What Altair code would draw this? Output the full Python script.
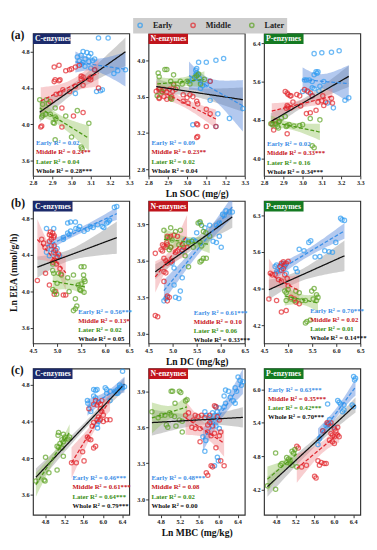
import numpy as np
import pandas as pd
import altair as alt

SERIF = "Liberation Serif"
GROUPS = ["Early", "Middle", "Later"]
ALL = ["Whole", "Early", "Middle", "Later"]
POINT_COLORS = ["#2e9cf2", "#e3262c", "#5da323"]
LINE_COLORS = ["#111111", "#3a8fe8", "#e0262e", "#4f9a1a"]
BAND_COLORS = ["#8c8c8c", "#4a7fd8", "#ee8a8f", "#93c45e"]
TEXT_COLORS = ["#3d8ee6", "#c8161d", "#3b8f16", "#111111"]
HEADER_COLORS = {"C-enzymes": "#1c2b6b", "N-enzymes": "#c0141c", "P-enzymes": "#147a22"}

# ---------------- row (a): x = Ln SOC ----------------
a1_early_x = [3.03,3.04,3.05,3.06,3.07,3.08,3.09,3.10,3.11,3.05,3.07,3.09,3.12,3.14,3.19,3.13,3.15,3.16,3.22,3.24,3.02,3.12,3.06,3.10,3.28]
a1_early_y = [4.74,4.70,4.76,4.68,4.72,4.79,4.75,4.78,4.70,4.66,4.64,4.69,4.60,4.95,4.95,4.36,4.37,4.38,4.56,4.59,4.34,4.72,4.80,4.62,4.60]
a1_middle_x = [2.91,2.935,2.91,2.915,2.935,2.94,2.97,2.99,3.00,3.02,3.04,3.05,3.05,3.06,3.09,3.10,3.10,3.14,3.02,3.06,2.955,2.92,2.94,2.89,2.95,3.01,3.06,2.84,2.845,2.95,2.99,3.12]
a1_middle_y = [4.63,4.65,4.47,4.49,4.48,4.49,4.59,4.60,4.61,4.63,4.65,4.50,4.53,4.52,4.50,4.52,4.49,4.40,4.42,4.43,4.38,4.33,4.34,4.25,4.18,4.09,4.13,3.97,3.98,3.97,4.36,4.60]
a1_later_x = [2.835,2.87,2.85,2.85,2.865,2.89,2.915,2.915,2.92,2.905,2.91,2.97,3.03,3.09,2.915,3.00,3.05,3.055,2.845,2.88]
a1_later_y = [4.27,4.27,4.22,4.10,4.11,4.11,4.18,4.08,4.06,4.02,4.01,4.09,4.15,4.01,3.83,3.86,3.75,3.73,4.08,4.23]

a2_early_x = [3.06,3.10,3.15,3.19,3.05,3.055,3.045,3.065,3.05,3.045,3.03,3.07,3.10,3.12,3.12,3.16,3.22,3.29,3.03,3.15,3.08,3.07,3.01]
a2_early_y = [3.98,3.98,4.00,4.02,3.86,3.84,3.84,3.80,3.91,3.89,3.79,3.76,3.73,3.77,3.56,3.41,3.36,3.47,3.29,3.27,3.72,3.69,3.77]
a2_middle_x = [2.84,2.855,2.87,2.88,2.895,2.91,2.925,2.94,2.855,2.88,2.895,2.92,2.915,2.98,3.0,3.015,3.03,2.98,3.005,3.05,3.055,3.10,3.12,3.05,3.055,3.10,3.15,3.05,3.055,3.12,2.855,2.93]
a2_middle_y = [3.66,3.68,3.66,3.68,3.65,3.68,3.66,3.68,3.58,3.60,3.57,3.60,3.58,3.62,3.59,3.62,3.60,3.55,3.53,3.55,3.52,3.46,3.41,3.30,3.29,3.27,3.27,3.15,3.16,3.77,3.59,3.73]
a2_later_x = [2.85,2.885,2.895,2.855,2.93,2.915,2.93,2.965,2.975,3.0,3.015,3.04,3.06,3.05,3.07,3.09,2.845,2.87,2.915,2.92,2.95]
a2_later_y = [3.86,3.90,3.90,3.82,3.84,3.77,3.74,3.77,3.74,3.77,3.74,3.81,3.85,3.83,3.74,3.79,3.61,3.65,3.59,3.57,3.70]

a3_early_x = [3.06,3.10,3.15,3.19,3.22,3.24,3.07,3.075,3.08,3.06,3.01,3.02,3.035,3.05,3.11,3.05,3.06,3.09,3.085,3.13,3.16,3.03,3.05,3.00]
a3_early_y = [6.18,6.20,6.21,6.24,5.21,5.26,5.80,5.77,5.80,5.74,5.63,5.63,5.63,5.60,5.60,5.47,5.45,5.50,5.40,5.15,5.05,5.38,5.30,5.39]
a3_middle_x = [2.91,2.92,2.925,2.935,2.94,2.97,2.985,3.01,3.025,3.04,3.05,2.92,2.925,2.94,2.915,2.95,2.99,3.02,3.04,3.07,3.10,3.105,3.12,3.11,3.15,3.155,3.08,2.84,2.85,2.92,2.86]
a3_middle_y = [5.39,5.36,5.33,5.30,5.30,5.33,5.30,5.43,5.40,5.36,5.30,5.10,5.07,5.05,5.04,5.17,5.09,4.93,4.95,5.00,5.20,5.30,5.17,5.10,5.25,5.15,5.17,4.72,4.59,4.51,4.78]
a3_later_x = [2.835,2.845,2.86,2.87,2.875,2.92,2.93,2.955,2.985,3.0,2.91,2.89,2.88,2.875,3.04,3.09,3.05,3.06,2.915]
a3_later_y = [4.72,4.70,4.72,4.66,4.63,4.68,4.70,4.67,4.68,4.70,4.87,4.84,4.77,4.75,4.83,4.80,4.26,4.22,4.66]

# ---------------- row (b): x = Ln DC ----------------
b1_early_x = [4.78,4.93,5.22,5.28,5.38,5.39,5.44,5.47,5.13,5.13,5.22,5.25,5.28,5.56,5.63,5.69,5.75,5.94,5.97,6.06,6.03,6.09,6.19,6.24,5.84,4.88,4.94,5.00,4.84,4.97,5.05,4.78]
b1_early_y = [4.69,4.69,4.75,4.76,4.76,4.69,4.68,4.71,4.59,4.57,4.64,4.62,4.66,4.66,4.68,4.71,4.70,4.71,4.70,4.76,4.75,4.78,4.92,4.93,4.73,4.46,4.45,4.47,4.39,4.41,4.39,4.43]
b1_middle_x = [4.84,4.86,4.88,4.91,4.88,4.93,4.94,4.68,4.72,4.84,4.88,4.75,4.94,4.97,4.93,5.03,5.00,4.91,4.94,4.76,5.08,4.59,4.84,4.97,4.94,5.13,5.18,5.06,4.99]
b1_middle_y = [4.62,4.65,4.61,4.64,4.57,4.59,4.61,4.57,4.53,4.55,4.50,4.48,4.50,4.45,4.43,4.41,4.38,4.32,4.34,4.20,4.19,4.12,4.07,4.00,3.97,3.96,3.96,4.25,4.30]
b1_later_x = [4.91,4.93,5.03,5.09,4.91,4.94,4.99,5.22,5.34,5.50,5.56,5.55,5.56,5.58,5.44,5.50,5.47,5.49,5.38,5.41,5.38,5.34,4.91,5.25,5.56,5.00]
b1_later_y = [4.23,4.20,4.20,4.18,4.02,4.00,3.97,4.15,4.18,4.27,4.27,4.18,4.13,4.11,4.07,4.08,4.02,4.01,3.92,3.84,3.81,3.79,4.30,4.00,3.99,4.09]

b2_early_x = [6.11,6.18,6.24,6.07,5.97,5.91,5.67,5.57,5.77,5.50,5.43,5.47,5.84,5.91,5.97,6.01,5.26,5.33,5.20,4.99,5.03,5.20,5.03,5.16,4.82,4.86,4.89,5.13,5.06,6.04]
b2_early_y = [4.01,4.00,4.00,3.97,3.91,3.89,3.87,3.91,3.89,3.83,3.77,3.76,3.76,3.75,3.80,3.71,3.77,3.76,3.68,3.58,3.54,3.46,3.40,3.35,3.27,3.29,3.30,3.29,3.30,3.98]
b2_middle_x = [4.64,4.76,4.79,4.79,4.82,4.86,4.89,4.88,4.89,4.93,4.96,5.03,5.10,4.82,4.86,4.89,4.82,4.86,4.96,4.99,5.06,5.10,5.20,5.23,5.30,4.82,4.89,4.93,4.89,4.64,4.69,4.96]
b2_middle_y = [3.66,3.69,3.68,3.73,3.72,3.71,3.73,3.75,3.80,3.79,3.80,3.81,3.80,3.62,3.60,3.58,3.51,3.50,3.59,3.60,3.67,3.68,3.69,3.71,3.71,3.43,3.31,3.30,3.27,3.15,3.14,3.71]
b2_later_x = [4.82,4.96,5.06,5.16,4.89,4.99,4.96,4.93,5.13,5.20,5.33,5.40,5.53,5.57,5.60,5.64,5.69,5.77,5.57,5.60,5.64,5.60,5.70,5.57,5.33,5.26,5.43]
b2_later_y = [3.85,3.87,3.84,3.85,3.79,3.77,3.71,3.69,3.73,3.73,3.75,3.76,3.91,3.92,3.89,3.84,3.83,3.80,3.75,3.72,3.62,3.60,3.62,3.59,3.55,3.64,3.71]

b3_early_x = [6.09,6.12,6.17,5.99,5.43,5.47,5.23,5.33,5.76,5.85,5.92,5.56,5.66,5.16,5.19,4.73,4.76,4.86,4.90,4.93,4.76,4.83,4.96]
b3_early_y = [6.24,6.21,6.20,5.78,5.78,5.81,5.65,5.62,5.62,5.60,5.59,5.50,5.51,5.28,5.22,5.32,5.35,5.35,5.38,5.32,5.22,5.24,5.19]
b3_middle_x = [4.86,4.90,4.93,4.90,4.83,4.86,4.96,5.00,4.63,4.67,4.73,4.80,4.86,4.98,4.60,4.76,4.86,4.96,5.06,5.13,5.16,5.23,5.00,4.93]
b3_middle_y = [5.38,5.41,5.35,5.28,5.32,5.25,5.38,5.42,5.19,5.16,5.17,5.07,5.04,5.09,4.70,4.67,4.45,4.48,4.73,4.70,4.64,4.61,4.95,5.16]
b3_later_x = [4.93,4.96,5.00,5.06,5.13,5.16,5.23,5.29,5.36,5.49,5.54,5.59,5.62,5.52,5.59,5.36,5.39,5.46,4.96]
b3_later_y = [4.85,4.82,4.88,4.70,4.67,4.85,4.82,4.67,4.67,4.85,4.90,4.78,4.73,4.70,4.67,4.24,4.27,4.30,4.67]

# ---------------- row (c): x = Ln MBC ----------------
c1_early_x = [6.41,6.35,6.38,6.41,6.45,6.35,6.31,6.08,6.15,5.81,5.85,5.88,6.05,6.08,5.68,5.69,5.75,5.88,5.89,5.91,5.81,5.85,6.25,6.28,6.15,6.31]
c1_early_y = [4.95,4.80,4.78,4.77,4.78,4.77,4.75,4.71,4.73,4.75,4.74,4.75,4.77,4.75,4.63,4.60,4.51,4.37,4.33,4.40,4.68,4.66,4.73,4.71,4.63,4.71]
c1_middle_x = [5.85,5.91,5.95,5.98,5.88,5.81,5.71,5.95,5.98,6.01,5.91,5.88,5.95,6.08,6.15,5.78,5.81,5.68,5.71,5.75,5.85,5.81,5.58,5.61,5.45,5.35,6.01]
c1_middle_y = [4.63,4.61,4.59,4.63,4.58,4.59,4.54,4.54,4.51,4.47,4.45,4.42,4.42,4.42,4.42,4.35,4.39,4.23,4.21,4.20,4.13,4.11,4.07,3.97,3.95,3.95,4.40]
c1_later_x = [4.61,4.78,4.80,4.88,5.05,4.81,5.05,5.08,5.15,5.07,5.18,5.15,5.21,5.18,5.11,5.28,5.18,5.08,5.31,5.21]
c1_later_y = [3.75,3.76,3.75,3.84,3.87,4.01,4.13,4.12,4.11,4.25,4.26,4.20,4.21,4.18,4.16,4.21,4.02,4.28,4.23,4.23]

c2_early_x = [6.41,6.45,6.51,6.48,6.35,6.38,6.15,6.21,6.12,6.25,6.31,6.35,6.15,6.12,5.95,6.02,5.98,5.88,5.92,5.82,5.85,5.72,5.75,5.95,6.02,5.68,5.74,5.72,5.98,6.00,5.92]
c2_early_y = [4.02,3.99,3.98,3.95,3.93,3.90,3.91,3.90,3.86,3.85,3.82,3.80,3.80,3.77,3.77,3.76,3.73,3.72,3.70,3.68,3.66,3.73,3.70,3.61,3.59,3.52,3.49,3.40,3.35,3.32,3.28]
c2_middle_x = [5.32,5.38,5.52,5.58,5.65,5.72,5.82,5.45,5.52,5.62,5.78,5.82,5.88,5.92,5.95,5.98,6.02,5.78,5.85,5.92,6.02,6.05,6.05,6.12,5.95,5.85,5.88,5.75,5.78,5.62,5.48]
c2_middle_y = [3.70,3.72,3.70,3.69,3.70,3.68,3.70,3.60,3.59,3.59,3.62,3.64,3.61,3.78,3.77,3.69,3.66,3.56,3.53,3.55,3.53,3.56,3.32,3.28,3.43,3.28,3.27,3.22,3.20,3.48,3.66]
c2_later_x = [4.62,4.82,4.89,4.99,5.02,5.05,5.02,5.10,5.19,5.22,5.32,5.35,5.19,5.25,4.92,4.95,5.25,5.09,4.75,5.12]
c2_later_y = [3.73,3.70,3.70,3.72,3.70,3.90,3.90,3.80,3.90,3.89,3.82,3.83,3.66,3.65,3.62,3.60,3.56,3.69,3.68,3.61]

c3_early_x = [6.41,6.45,6.43,6.08,6.11,6.14,6.21,5.87,6.38,6.41,6.18,6.21,5.91,5.87,5.84,5.77,5.70,5.67,5.94,6.01]
c3_early_y = [6.23,6.20,6.17,5.80,5.77,5.74,5.72,5.74,5.72,5.69,5.60,5.63,5.46,5.38,5.35,5.26,5.12,5.01,5.35,5.32]
c3_middle_x = [5.86,5.89,5.94,5.77,6.01,6.04,6.08,5.94,5.97,6.01,5.91,5.97,6.01,6.08,5.23,5.26,5.33,5.43,5.67,5.74,5.80,5.84,5.70,5.60,5.63,6.11]
c3_middle_y = [5.40,5.38,5.40,5.26,5.29,5.26,5.32,5.21,5.18,5.15,5.09,5.06,5.03,5.18,4.98,4.95,4.61,4.64,4.72,4.69,4.67,4.67,4.64,4.44,4.41,5.15]
c3_later_x = [4.62,4.79,4.79,4.89,4.92,5.02,5.06,5.09,5.13,5.16,5.19,5.09,5.13,5.23,5.02]
c3_later_y = [4.27,4.21,4.86,4.64,4.67,4.78,4.75,4.72,4.89,4.86,4.92,4.67,4.64,4.61,4.69]

# ---------------- axis ticks ----------------
SOC_TICKS = [2.8, 2.9, 3.0, 3.1, 3.2, 3.3]
DC_TICKS = [4.5, 5.0, 5.5, 6.0, 6.5]
MBC_TICKS = [4.8, 5.2, 5.6, 6.0, 6.4]
C_TICKS = [3.6, 4.0, 4.4, 4.8]
N_TICKS_A = [2.8, 3.2, 3.6, 4.0]
N_TICKS = [3.0, 3.3, 3.6, 3.9]
P_TICKS_A = [4.0, 4.8, 5.6, 6.4]
P_TICKS_B = [4.2, 4.9, 5.6, 6.3]
P_TICKS_C = [4.2, 4.8, 5.4, 6.0]

# ---------------- R squared labels ----------------
a1_r2 = ["0.02", "0.24", "0.04", "0.28"]; a1_sig = ["", "**", "", "***"]
a2_r2 = ["0.09", "0.23", "0.02", "0.04"]; a2_sig = ["", "**", "", ""]
a3_r2 = ["0.02", "0.33", "0.16", "0.34"]; a3_sig = ["", "***", "", "***"]
b1_r2 = ["0.56", "0.13", "0.02", "0.05"]; b1_sig = ["***", "*", "", ""]
b2_r2 = ["0.61", "0.10", "0.06", "0.33"]; b2_sig = ["***", "", "", "***"]
b3_r2 = ["0.70", "0.02", "0.01", "0.14"]; b3_sig = ["***", "", "", "***"]
c1_r2 = ["0.46", "0.61", "0.64", "0.79"]; c1_sig = ["***", "***", "***", "***"]
c2_r2 = ["0.48", "0.08", "0.02", "0.00"]; c2_sig = ["***", "", "", ""]
c3_r2 = ["0.63", "0.35", "0.42", "0.70"]; c3_sig = ["***", "***", "***", "***"]
STAT_NAMES = ["Early", "Middle", "Later", "Whole"]


def fit_band(x, y, n=40):
    x = np.asarray(x, float)
    y = np.asarray(y, float)
    b, a = np.polyfit(x, y, 1)
    xs = np.linspace(x.min(), x.max(), n)
    yhat = a + b * xs
    resid = y - (a + b * x)
    dof = len(x) - 2
    s = np.sqrt((resid ** 2).sum() / dof)
    sxx = ((x - x.mean()) ** 2).sum()
    t = 1.96 + 2.4 / dof
    se = s * np.sqrt(1.0 / len(x) + (xs - x.mean()) ** 2 / sxx)
    return xs, yhat, yhat - t * se, yhat + t * se


LEGEND = alt.Legend(
    orient="none", legendX=104, legendY=-16, direction="horizontal", title=None,
    fillColor="#cdcdcd", padding=3, columnPadding=16, labelOffset=9,
    symbolSize=20, symbolStrokeWidth=1.5, symbolType="circle",
    labelFont=SERIF, labelFontWeight="bold", labelFontSize=8.5, labelColor="#222222",
)


def make_panel(xl, yl, xdom, ydom, xticks, yticks, header, r2, sig, tpos, height,
               xtitle=None, ytitle=None, tag=None, hw=41):
    rows = []
    for g, xv, yv in zip(GROUPS, xl, yl):
        for a, b in zip(xv, yv):
            rows.append({"x": a, "y": b, "group": g})
    pts = pd.DataFrame(rows)

    frows = []
    allx = sum([list(v) for v in xl], [])
    ally = sum([list(v) for v in yl], [])
    for g, xv, yv in zip(ALL, [allx] + list(xl), [ally] + list(yl)):
        gx, gf, lo, hi = fit_band(xv, yv)
        for i in range(len(gx)):
            frows.append({"x": gx[i], "fit": gf[i], "lo": lo[i], "hi": hi[i], "group": g})
    fits = pd.DataFrame(frows)

    xscale = alt.Scale(domain=xdom, nice=False, zero=False)
    yscale = alt.Scale(domain=ydom, nice=False, zero=False)
    xaxis = alt.Axis(values=xticks, format=".1f", title=xtitle)
    yaxis = alt.Axis(values=yticks, format=".1f", title=ytitle)
    X = alt.X("x:Q", scale=xscale, axis=xaxis)

    bands = alt.Chart(fits).mark_area(opacity=0.42, clip=True).encode(
        x=X,
        y=alt.Y("lo:Q", scale=yscale, axis=yaxis),
        y2=alt.Y2("hi:Q"),
        fill=alt.Fill("group:N", scale=alt.Scale(domain=ALL, range=BAND_COLORS), legend=None),
    )
    points = alt.Chart(pts).mark_point(filled=False, size=20, strokeWidth=1.3).encode(
        x=X,
        y=alt.Y("y:Q", scale=yscale, axis=yaxis),
        color=alt.Color("group:N", scale=alt.Scale(domain=GROUPS, range=POINT_COLORS), legend=LEGEND),
    )
    lines = alt.Chart(fits).mark_line(clip=True, strokeWidth=1.3).encode(
        x=X,
        y=alt.Y("fit:Q", scale=yscale, axis=yaxis),
        stroke=alt.Stroke("group:N", scale=alt.Scale(domain=ALL, range=LINE_COLORS), legend=None),
        strokeDash=alt.StrokeDash("group:N", scale=alt.Scale(domain=ALL, range=[[1, 0], [4, 2], [4, 2], [4, 2]]), legend=None),
    )
    one = pd.DataFrame({"k": [0]})
    layers = [bands, points, lines]
    layers.append(alt.Chart(one).mark_rect(color=HEADER_COLORS[header]).encode(
        x=alt.value(0), x2=alt.value(hw), y=alt.value(0), y2=alt.value(11)))
    layers.append(alt.Chart(one).mark_text(text=header, color="white", font=SERIF, fontWeight="bold",
                                           fontSize=8, align="left", baseline="middle").encode(
        x=alt.value(2), y=alt.value(6)))
    tx, ty = tpos
    for i in range(4):
        label = f"{STAT_NAMES[i]}  R\u00b2 = {r2[i]}{sig[i]}"
        layers.append(alt.Chart(one).mark_text(text=label, color=TEXT_COLORS[i], font=SERIF,
                                               fontWeight="bold", fontSize=7, align="left",
                                               baseline="middle").encode(
            x=alt.value(tx), y=alt.value(ty + i * 9.6)))
    if tag:
        layers.append(alt.Chart(one).mark_text(text=tag, color="#111111", font=SERIF, fontWeight="bold",
                                               fontSize=12, align="left", baseline="middle").encode(
            x=alt.value(-23), y=alt.value(2)))
    return alt.layer(*layers).properties(width=100, height=height)


HA, HB, HC = 148, 148, 152
panels = [
    make_panel([a1_early_x, a1_middle_x, a1_later_x], [a1_early_y, a1_middle_y, a1_later_y],
               [2.8, 3.3], [3.43, 5.0], SOC_TICKS, C_TICKS, "C-enzymes", a1_r2, a1_sig, (3, 114), HA,
               tag="(a)", hw=39),
    make_panel([a2_early_x, a2_middle_x, a2_later_x], [a2_early_y, a2_middle_y, a2_later_y],
               [2.8, 3.3], [2.725, 4.296], SOC_TICKS, N_TICKS_A, "N-enzymes", a2_r2, a2_sig, (3, 114), HA,
               xtitle="Ln SOC (mg/g)"),
    make_panel([a3_early_x, a3_middle_x, a3_later_x], [a3_early_y, a3_middle_y, a3_later_y],
               [2.8, 3.3], [3.63, 6.6], SOC_TICKS, P_TICKS_A, "P-enzymes", a3_r2, a3_sig, (3, 115), HA),
    make_panel([b1_early_x, b1_middle_x, b1_later_x], [b1_early_y, b1_middle_y, b1_later_y],
               [4.5, 6.5], [3.43, 4.99], DC_TICKS, C_TICKS, "C-enzymes", b1_r2, b1_sig, (47, 115), HB,
               ytitle="Ln EEA (nmol/g/h)", tag="(b)"),
    make_panel([b2_early_x, b2_middle_x, b2_later_x], [b2_early_y, b2_middle_y, b2_later_y],
               [4.5, 6.5], [2.92, 4.09], DC_TICKS, N_TICKS, "N-enzymes", b2_r2, b2_sig, (47, 116), HB,
               xtitle="Ln DC (mg/kg)"),
    make_panel([b3_early_x, b3_middle_x, b3_later_x], [b3_early_y, b3_middle_y, b3_later_y],
               [4.5, 6.5], [3.85, 6.57], DC_TICKS, P_TICKS_B, "P-enzymes", b3_r2, b3_sig, (48, 114), HB),
    make_panel([c1_early_x, c1_middle_x, c1_later_x], [c1_early_y, c1_middle_y, c1_later_y],
               [4.55, 6.55], [3.38, 4.98], MBC_TICKS, C_TICKS, "C-enzymes", c1_r2, c1_sig, (41, 114), HC,
               tag="(c)"),
    make_panel([c2_early_x, c2_middle_x, c2_later_x], [c2_early_y, c2_middle_y, c2_later_y],
               [4.55, 6.55], [2.87, 4.09], MBC_TICKS, N_TICKS, "N-enzymes", c2_r2, c2_sig, (3, 114), HC,
               xtitle="Ln MBC (mg/kg)"),
    make_panel([c3_early_x, c3_middle_x, c3_later_x], [c3_early_y, c3_middle_y, c3_later_y],
               [4.55, 6.55], [3.75, 6.375], MBC_TICKS, P_TICKS_C, "P-enzymes", c3_r2, c3_sig, (4, 22), HC),
]

chart = alt.concat(
    *panels, columns=3, spacing={"row": 26, "column": 20}, bounds="flush"
).properties(
    padding={"left": 0, "top": 0, "right": 0, "bottom": 0}
).configure_view(
    stroke="#333333", strokeWidth=1.2
).configure_axis(
    domain=False, grid=False, ticks=True, tickSize=3, tickColor="#333333", tickWidth=1,
    labelFont=SERIF, labelFontWeight="bold", labelFontSize=6.5, labelColor="#222222",
    labelPadding=1, labelFlush=False, labelOverlap=False,
    titleFont=SERIF, titleFontWeight="bold", titleFontSize=10, titleColor="#111111",
    titlePadding=3,
)

chart.save("out.html", embed_options={"renderer": "svg", "actions": False})
